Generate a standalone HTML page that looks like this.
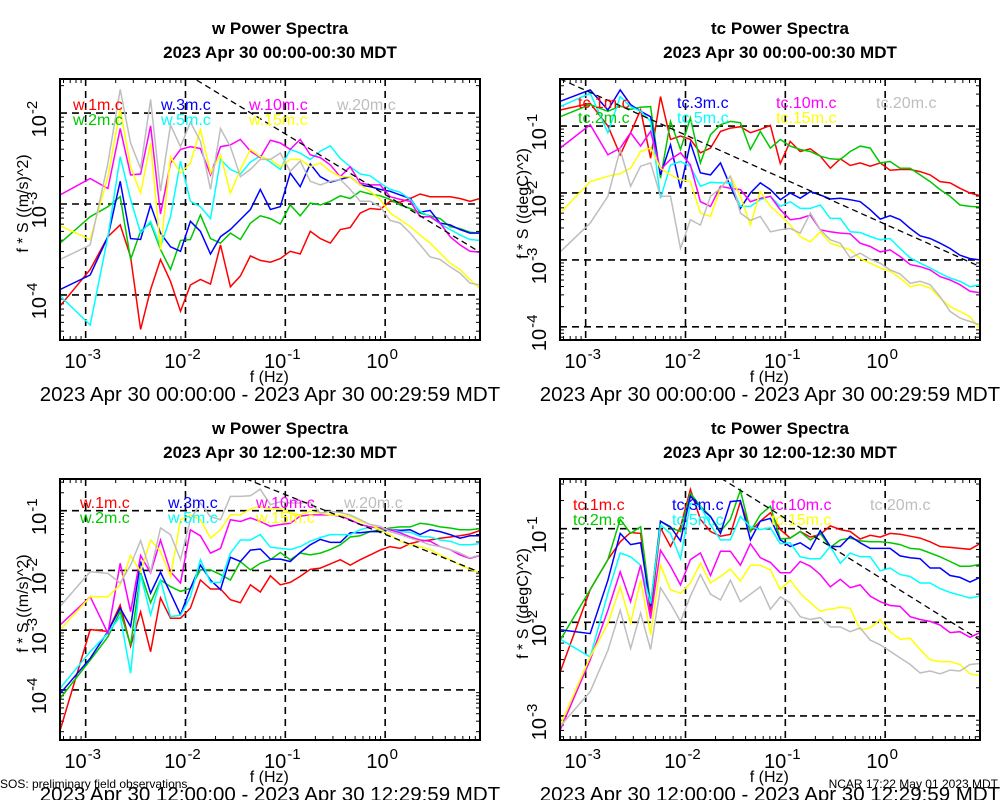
<!DOCTYPE html>
<html><head><meta charset="utf-8"><style>
html,body{margin:0;padding:0;background:#fff;}
svg{display:block;font-family:"Liberation Sans",sans-serif;}
</style></head><body>
<svg id="chart" width="1000" height="800" viewBox="0 0 1000 800" xmlns="http://www.w3.org/2000/svg">
<text x="0" y="788" font-size="12">SOS: preliminary field observations</text>
<text x="998" y="788" font-size="12" text-anchor="end">NCAR 17:22 May 01 2023 MDT</text>
</svg>
<script>
// frequencies in Hz (shared by all panels)
const freqs = [0.000556,0.00111,0.00167,0.00222,0.00282,0.00355,0.00447,0.00562,0.00708,0.00891,0.0112,0.0141,0.0178,0.0224,0.0282,0.0355,0.0447,0.0562,0.0708,0.0891,0.112,0.141,0.178,0.224,0.282,0.355,0.447,0.562,0.708,0.891,1.12,1.41,1.78,2.24,2.82,3.55,4.47,5.62,7.08,8.91];
const seriesColors = ["#ff0000","#00c800","#0000ff","#00ffff","#ff00ff","#ffff00","#bebebe"];
const heights = ["1m","2m","3m","5m","10m","15m","20m"];
const xTickExps = [-3,-2,-1,0];

// Panel 1: w, 00:00 (log10 of f*S)
const w00_1m = [-4.12,-3.72,-3.36,-3.23,-3.58,-4.38,-3.94,-3.61,-3.85,-4.18,-3.89,-3.83,-3.88,-3.45,-3.91,-3.79,-3.57,-3.62,-3.64,-3.60,-3.52,-3.55,-3.30,-3.38,-3.43,-3.28,-3.26,-3.10,-3.05,-3.06,-2.97,-2.98,-2.94,-2.89,-2.92,-2.92,-2.92,-2.94,-2.97,-2.94];
const w00_2m = [-3.43,-3.14,-3.03,-2.92,-3.61,-3.30,-3.21,-3.50,-3.72,-3.40,-3.39,-3.12,-3.38,-3.43,-3.32,-3.39,-3.21,-3.13,-3.16,-3.22,-3.01,-3.13,-2.99,-3.01,-2.97,-2.91,-2.94,-2.86,-2.89,-2.91,-2.95,-3.01,-3.05,-3.10,-3.13,-3.16,-3.25,-3.27,-3.31,-3.32];
const w00_3m = [-3.94,-3.78,-3.36,-2.75,-3.38,-3.39,-3.01,-3.32,-3.47,-3.52,-3.19,-3.30,-3.55,-3.36,-3.28,-3.17,-3.06,-2.84,-3.06,-3.03,-2.66,-2.81,-2.56,-2.70,-2.76,-2.73,-2.70,-2.79,-2.81,-2.84,-2.86,-2.90,-2.94,-3.09,-3.07,-3.21,-3.23,-3.28,-3.32,-3.32];
const w00_5m = [-4.01,-4.33,-3.36,-2.48,-2.95,-3.32,-3.19,-3.47,-3.14,-2.53,-2.97,-3.03,-3.16,-2.51,-2.62,-2.67,-2.54,-2.47,-2.54,-2.62,-2.40,-2.44,-2.51,-2.42,-2.36,-2.50,-2.59,-2.67,-2.69,-2.77,-2.84,-2.87,-2.95,-3.08,-3.14,-3.22,-3.28,-3.34,-3.39,-3.40];
const w00_10m = [-2.90,-2.72,-2.83,-2.17,-2.68,-2.67,-2.14,-3.11,-2.55,-2.40,-2.37,-2.39,-2.68,-2.37,-2.35,-2.29,-2.42,-2.49,-2.30,-2.33,-2.40,-2.29,-2.46,-2.49,-2.57,-2.70,-2.59,-2.77,-2.79,-2.79,-2.92,-2.95,-2.97,-3.14,-3.14,-3.21,-3.36,-3.45,-3.52,-3.53];
const w00_15m = [-3.24,-3.39,-2.70,-1.96,-2.59,-2.88,-2.33,-3.50,-2.48,-2.66,-2.55,-2.18,-2.66,-2.46,-2.88,-2.62,-2.40,-2.48,-2.51,-2.59,-2.51,-2.51,-2.59,-2.55,-2.64,-2.70,-2.70,-2.79,-2.86,-2.95,-3.10,-3.17,-3.25,-3.34,-3.43,-3.54,-3.65,-3.72,-3.83,-3.93];
const w00_20m = [-3.61,-3.45,-2.55,-1.74,-2.33,-2.61,-1.85,-2.86,-2.13,-2.37,-2.10,-2.31,-2.84,-2.17,-2.37,-2.70,-2.62,-2.51,-2.51,-2.44,-2.64,-2.53,-2.75,-2.79,-2.75,-2.73,-2.84,-2.97,-2.97,-3.03,-3.18,-3.21,-3.32,-3.45,-3.58,-3.61,-3.69,-3.76,-3.87,-3.89];

// Panel 2: tc, 00:00
const tc00_1m = [-0.76,-0.66,-1.00,-1.43,-1.10,-0.76,-1.48,-0.56,-1.20,-1.15,-1.20,-1.40,-1.33,-1.08,-1.03,-1.01,-1.10,-1.05,-0.99,-1.56,-1.23,-1.38,-1.34,-1.45,-1.63,-1.49,-1.59,-1.55,-1.60,-1.55,-1.66,-1.65,-1.65,-1.68,-1.73,-1.83,-1.85,-1.93,-2.00,-2.04];
const tc00_2m = [-0.86,-0.68,-0.78,-0.70,-0.75,-0.72,-0.71,-1.78,-0.93,-1.35,-0.88,-1.55,-1.13,-0.98,-0.93,-0.95,-1.35,-1.08,-1.33,-1.20,-1.30,-1.35,-1.38,-1.45,-1.49,-1.50,-1.38,-1.30,-1.33,-1.55,-1.53,-1.63,-1.63,-1.73,-1.83,-1.95,-2.05,-2.18,-2.20,-2.21];
const tc00_3m = [-0.63,-0.46,-0.76,-0.46,-0.68,-0.78,-0.86,-1.73,-1.28,-1.93,-1.25,-1.70,-1.73,-1.55,-1.90,-2.23,-2.00,-1.85,-1.95,-2.10,-2.00,-2.08,-1.98,-2.03,-2.09,-2.08,-2.10,-2.13,-2.25,-2.39,-2.34,-2.40,-2.53,-2.64,-2.68,-2.75,-2.83,-2.93,-2.98,-3.00];
const tc00_5m = [-0.71,-0.51,-1.10,-0.56,-0.71,-0.78,-0.93,-2.08,-1.58,-1.53,-1.60,-1.90,-1.84,-1.85,-1.85,-2.20,-2.20,-2.10,-2.05,-2.20,-2.13,-2.23,-2.23,-2.18,-2.38,-2.38,-2.58,-2.59,-2.65,-2.70,-2.68,-2.83,-2.97,-3.05,-3.12,-3.20,-3.27,-3.32,-3.40,-3.37];
const tc00_10m = [-1.33,-0.98,-1.43,-1.33,-1.10,-1.30,-1.08,-1.65,-1.50,-1.40,-1.58,-2.13,-2.20,-1.90,-1.93,-1.95,-2.13,-2.08,-2.05,-2.25,-2.40,-2.38,-2.33,-2.55,-2.58,-2.60,-2.61,-2.75,-2.80,-2.88,-2.85,-2.95,-3.07,-3.10,-3.15,-3.25,-3.30,-3.37,-3.47,-3.49];
const tc00_15m = [-2.30,-1.83,-1.75,-1.71,-1.63,-1.38,-1.33,-1.63,-1.73,-1.80,-1.83,-2.30,-2.35,-1.93,-1.75,-2.05,-2.48,-1.98,-2.20,-2.33,-2.48,-2.65,-2.73,-2.58,-2.75,-2.80,-2.85,-2.98,-3.05,-3.12,-3.17,-3.27,-3.40,-3.37,-3.42,-3.57,-3.70,-3.77,-3.85,-4.04];
const tc00_20m = [-2.88,-2.45,-2.05,-1.35,-1.90,-1.60,-1.55,-2.05,-2.05,-2.83,-2.40,-2.48,-2.05,-1.93,-1.75,-2.30,-2.41,-2.35,-2.58,-2.55,-2.53,-2.60,-2.30,-2.55,-2.70,-2.75,-2.97,-2.90,-2.99,-3.05,-3.15,-3.21,-3.35,-3.32,-3.37,-3.55,-3.77,-3.87,-3.92,-3.97];

// Panel 3: w, 12:00
const w12_1m = [-4.67,-2.99,-3.02,-2.58,-3.27,-2.69,-3.36,-2.46,-2.80,-2.80,-2.63,-2.16,-2.31,-2.31,-2.49,-2.54,-2.24,-2.36,-2.09,-2.24,-2.20,-2.10,-1.98,-1.96,-1.89,-1.82,-1.91,-1.82,-1.74,-1.66,-1.60,-1.63,-1.55,-1.51,-1.49,-1.46,-1.44,-1.42,-1.39,-1.33];
const w12_2m = [-4.14,-3.50,-3.11,-2.69,-3.25,-2.04,-2.54,-2.16,-2.27,-2.35,-2.30,-1.99,-1.99,-2.07,-2.16,-1.85,-1.99,-1.88,-1.82,-1.70,-1.82,-1.71,-1.74,-1.71,-1.65,-1.57,-1.44,-1.42,-1.35,-1.32,-1.29,-1.27,-1.27,-1.21,-1.23,-1.27,-1.29,-1.32,-1.32,-1.30];
const w12_3m = [-4.06,-3.47,-3.02,-2.63,-2.94,-1.85,-2.38,-2.03,-2.38,-2.74,-2.30,-1.91,-2.16,-2.32,-1.78,-1.85,-1.66,-1.64,-1.81,-1.81,-1.85,-1.70,-1.57,-1.48,-1.53,-1.53,-1.37,-1.37,-1.35,-1.35,-1.32,-1.33,-1.32,-1.40,-1.32,-1.35,-1.40,-1.46,-1.42,-1.42];
const w12_5m = [-3.97,-3.36,-3.05,-2.77,-3.72,-2.07,-2.74,-2.16,-2.77,-2.75,-2.44,-1.82,-2.20,-2.20,-1.71,-1.49,-1.49,-1.40,-1.61,-1.63,-1.65,-1.60,-1.51,-1.45,-1.40,-1.40,-1.40,-1.32,-1.27,-1.29,-1.32,-1.35,-1.36,-1.43,-1.44,-1.49,-1.51,-1.57,-1.57,-1.55];
const w12_10m = [-2.91,-2.44,-3.05,-1.88,-2.69,-1.75,-2.04,-1.49,-2.02,-2.21,-1.32,-1.42,-1.71,-1.63,-1.15,-1.18,-1.12,-1.18,-1.26,-1.23,-1.21,-1.09,-1.07,-1.07,-1.07,-1.09,-1.15,-1.23,-1.27,-1.29,-1.32,-1.37,-1.44,-1.49,-1.51,-1.60,-1.65,-1.74,-1.80,-1.75];
const w12_15m = [-2.99,-2.44,-2.44,-2.24,-1.75,-2.02,-1.49,-1.68,-2.10,-1.15,-1.07,-1.15,-1.46,-1.32,-1.07,-1.07,-0.97,-0.93,-0.97,-0.96,-1.04,-1.07,-1.01,-1.04,-1.07,-1.08,-1.09,-1.18,-1.23,-1.32,-1.40,-1.51,-1.57,-1.60,-1.65,-1.74,-1.82,-1.91,-1.98,-2.03];
const w12_20m = [-2.60,-2.02,-2.05,-2.21,-1.91,-1.50,-2.02,-1.29,-1.40,-1.82,-1.15,-0.87,-1.10,-1.15,-0.76,-0.76,-0.75,-0.64,-0.90,-0.85,-0.87,-0.87,-0.86,-1.04,-1.01,-1.03,-1.07,-1.15,-1.23,-1.26,-1.35,-1.40,-1.46,-1.51,-1.57,-1.60,-1.65,-1.71,-1.79,-1.74];

// Panel 4: tc, 12:00
const tc12_1m = [-2.53,-1.65,-1.33,-1.14,-1.04,-1.05,-1.90,-0.99,-1.19,-0.98,-0.58,-0.90,-1.03,-1.08,-1.06,-0.71,-1.03,-0.92,-0.83,-1.01,-1.10,-1.03,-1.09,-1.06,-0.97,-1.01,-1.03,-1.11,-1.07,-1.09,-1.05,-1.06,-1.08,-1.10,-1.14,-1.19,-1.20,-1.21,-1.22,-1.16];
const tc12_2m = [-2.19,-1.65,-1.33,-0.90,-1.05,-0.98,-1.81,-0.92,-0.99,-1.03,-0.62,-0.76,-0.87,-1.03,-0.90,-0.59,-1.03,-0.85,-0.76,-1.11,-1.10,-1.03,-1.12,-1.05,-1.20,-1.12,-1.10,-1.13,-1.14,-1.14,-1.15,-1.17,-1.21,-1.22,-1.26,-1.30,-1.35,-1.40,-1.40,-1.38];
const tc12_3m = [-2.08,-2.12,-1.55,-1.05,-1.17,-1.15,-1.83,-0.92,-0.98,-1.13,-0.65,-0.78,-0.87,-1.05,-0.71,-0.70,-1.12,-0.92,-0.89,-1.12,-1.19,-1.15,-1.22,-1.02,-1.19,-1.19,-1.08,-1.15,-1.21,-1.21,-1.21,-1.29,-1.31,-1.32,-1.42,-1.42,-1.50,-1.52,-1.57,-1.52];
const tc12_5m = [-2.18,-2.37,-1.69,-1.26,-1.30,-1.39,-1.80,-0.96,-1.05,-1.32,-0.73,-0.76,-0.96,-1.12,-1.12,-0.87,-0.98,-1.01,-0.99,-1.16,-1.15,-1.30,-1.32,-1.32,-1.19,-1.37,-1.26,-1.30,-1.30,-1.45,-1.42,-1.49,-1.51,-1.58,-1.58,-1.64,-1.68,-1.71,-1.74,-1.72];
const tc12_10m = [-3.15,-2.40,-1.87,-1.46,-1.78,-1.39,-1.96,-1.23,-1.40,-1.60,-1.33,-1.26,-1.50,-1.24,-1.24,-1.39,-1.16,-1.31,-1.36,-1.47,-1.47,-1.35,-1.40,-1.49,-1.62,-1.54,-1.63,-1.60,-1.72,-1.78,-1.82,-1.83,-1.94,-1.97,-1.99,-2.03,-2.11,-2.10,-2.16,-2.11];
const tc12_15m = [-3.10,-2.37,-2.01,-1.62,-2.01,-1.55,-2.13,-1.39,-1.65,-1.69,-1.58,-1.37,-1.58,-1.51,-1.43,-1.56,-1.39,-1.39,-1.44,-1.65,-1.55,-1.69,-1.79,-1.88,-1.86,-1.84,-1.85,-2.08,-2.06,-1.97,-2.10,-2.18,-2.17,-2.29,-2.40,-2.42,-2.42,-2.45,-2.55,-2.57];
const tc12_20m = [-3.11,-2.74,-2.30,-1.87,-2.28,-1.90,-2.29,-1.63,-1.80,-1.99,-1.72,-1.49,-1.70,-1.76,-1.55,-1.78,-1.70,-1.62,-1.86,-1.73,-1.79,-1.94,-1.97,-1.95,-2.05,-2.05,-2.10,-2.06,-2.19,-2.24,-2.31,-2.38,-2.45,-2.54,-2.52,-2.55,-2.51,-2.52,-2.45,-2.44];

// -2/3 reference line anchor values (log10 at f = 8.91 Hz)
const refAnchors = [-3.53,-3.10,-2.03,-2.19];

const NS = "http://www.w3.org/2000/svg";
const svg = document.getElementById("chart");
function mk(tag, attrs, parent){ const e=document.createElementNS(NS,tag); for(const k in attrs) e.setAttribute(k,attrs[k]); (parent||svg).appendChild(e); return e; }

const panels = [
 {id:"w-00", left:60, top:79, var:"w", title:"w Power Spectra", sub:"2023 Apr 30 00:00-00:30 MDT", range:"2023 Apr 30 00:00:00 - 2023 Apr 30 00:29:59 MDT", ymin:-4.495, ymax:-1.626, yt:[-4,-3,-2], ylab:"f * S ((m/s)^2)", data:[w00_1m,w00_2m,w00_3m,w00_5m,w00_10m,w00_15m,w00_20m], legx:[73,161,249,337], legy:104, ref:refAnchors[0]},
 {id:"tc-00", left:560, top:79, var:"tc", title:"tc Power Spectra", sub:"2023 Apr 30 00:00-00:30 MDT", range:"2023 Apr 30 00:00:00 - 2023 Apr 30 00:29:59 MDT", ymin:-4.197, ymax:-0.297, yt:[-4,-3,-2,-1], ylab:"f * S ((degC)^2)", data:[tc00_1m,tc00_2m,tc00_3m,tc00_5m,tc00_10m,tc00_15m,tc00_20m], legx:[578,677,776,876], legy:102, ref:refAnchors[1]},
 {id:"w-12", left:60, top:479, var:"w", title:"w Power Spectra", sub:"2023 Apr 30 12:00-12:30 MDT", range:"2023 Apr 30 12:00:00 - 2023 Apr 30 12:29:59 MDT", ymin:-4.838, ymax:-0.469, yt:[-4,-3,-2,-1], ylab:"f * S ((m/s)^2)", data:[w12_1m,w12_2m,w12_3m,w12_5m,w12_10m,w12_15m,w12_20m], legx:[80,168,256,344], legy:502, ref:refAnchors[2]},
 {id:"tc-12", left:560, top:479, var:"tc", title:"tc Power Spectra", sub:"2023 Apr 30 12:00-12:30 MDT", range:"2023 Apr 30 12:00:00 - 2023 Apr 30 12:29:59 MDT", ymin:-3.257, ymax:-0.469, yt:[-3,-2,-1], ylab:"f * S ((degC)^2)", data:[tc12_1m,tc12_2m,tc12_3m,tc12_5m,tc12_10m,tc12_15m,tc12_20m], legx:[573,672,771,870], legy:504, ref:refAnchors[3]}
];
const W=420, H=261, XMIN=-3.257, XMAX=0.95;

panels.forEach((p,pi)=>{
  const g = mk("g",{});
  
  
  const X = lf => p.left + (lf-XMIN)/(XMAX-XMIN)*W;
  const Y = lv => p.top + (p.ymax-lv)/(p.ymax-p.ymin)*H;
  const cx = p.left + W/2;
  const clipId = "clip"+pi;
  const cp = mk("clipPath",{id:clipId},g); mk("rect",{x:p.left,y:p.top,width:W,height:H},cp);

  let t = mk("text",{x:cx+10,y:p.top-45,"font-size":17,"font-weight":"bold","text-anchor":"middle"},g); t.textContent=p.title;
  
  
  t = mk("text",{x:cx+10,y:p.top-21,"font-size":17,"font-weight":"bold","text-anchor":"middle"},g); t.textContent=p.sub;
  
  

  // grid
  xTickExps.forEach(e=>{ const l=mk("line",{x1:X(e),x2:X(e),y1:p.top,y2:p.top+H,stroke:"#000","stroke-width":1.6,"stroke-dasharray":"7,5"},g);
    
     });
  p.yt.forEach(e=>{ const l=mk("line",{x1:p.left,x2:p.left+W,y1:Y(e),y2:Y(e),stroke:"#000","stroke-width":1.6,"stroke-dasharray":"7,5"},g);
    
     });
  // minor ticks
  for(let d=-4; d<=0; d++) for(let m=2;m<=9;m++){ const lf=d+Math.log10(m); if(lf<XMIN||lf>XMAX) continue;
    mk("line",{x1:X(lf),x2:X(lf),y1:p.top+H,y2:p.top+H-4,stroke:"#000","stroke-width":1},g);
    mk("line",{x1:X(lf),x2:X(lf),y1:p.top,y2:p.top+4,stroke:"#000","stroke-width":1},g); }
  for(let d=-6; d<=0; d++) for(let m=2;m<=9;m++){ const lv=d+Math.log10(m); if(lv<p.ymin||lv>p.ymax) continue;
    mk("line",{x1:p.left,x2:p.left+4,y1:Y(lv),y2:Y(lv),stroke:"#000","stroke-width":1},g);
    mk("line",{x1:p.left+W,x2:p.left+W-4,y1:Y(lv),y2:Y(lv),stroke:"#000","stroke-width":1},g); }

  // series
  p.data.forEach((arr,si)=>{
    const pts = arr.map((v,i)=>X(Math.log10(freqs[i])).toFixed(1)+","+Y(v).toFixed(1)).join(" ");
    const pl = mk("polyline",{points:pts,fill:"none",stroke:seriesColors[si],"stroke-width":1.5,"clip-path":"url(#"+clipId+")"},g);
    
    
  });
  // reference -2/3 line
  const lf1=XMAX, lv1=p.ref, lf0=XMIN, lv0=p.ref+(2/3)*(XMAX-XMIN);
  const rl = mk("line",{x1:X(lf0),y1:Y(lv0),x2:X(lf1),y2:Y(lv1),stroke:"#000","stroke-width":1.3,"stroke-dasharray":"6,4","clip-path":"url(#"+clipId+")"},g);
  
  

  // legend
  p.data.forEach((arr,si)=>{
    const col = si<2?0:si<4?1:si<6?2:3; const row = (si===0||si===2||si===4||si===6)?0:1;
    const lt = mk("text",{x:p.legx[col],y:p.legy+row*15+6,"font-size":16,fill:seriesColors[si]},g);
    lt.textContent = p.var+"."+heights[si]+".c";
    
    
  });

  // frame
  const fr = mk("rect",{x:p.left,y:p.top,width:W,height:H,fill:"none",stroke:"#000","stroke-width":2},g);
  
  

  // x tick labels
  xTickExps.forEach(e=>{
    const tt = mk("text",{x:X(e)-3,y:p.top+H+28,"font-size":20,"text-anchor":"middle"},g);
    tt.textContent="10";
    const sp = mk("tspan",{dx:"1",dy:"-9","font-size":15},tt); sp.textContent=String(e);
    
    
  });
  t = mk("text",{x:X(-1)-16,y:p.top+H+42,"font-size":16,"text-anchor":"middle"},g); t.textContent="f (Hz)";
  
  
  t = mk("text",{x:cx,y:p.top+H+61,"font-size":20.5,"text-anchor":"middle"},g); t.textContent=p.range;
  
  

  // y tick labels (rotated)
  p.yt.forEach(e=>{
    const y=Y(e)+6, x=p.left-14;
    const tt = mk("text",{x:x,y:y,"font-size":20,"text-anchor":"middle",transform:"rotate(-90 "+x+" "+y+")"},g);
    tt.textContent="10";
    const sp = mk("tspan",{dx:"1",dy:"-9","font-size":15},tt); sp.textContent=String(e);
    
    
  });
  const yx=p.left-32, yy=p.top+H/2-6;
  t = mk("text",{x:yx,y:yy,"font-size":16,"text-anchor":"middle",transform:"rotate(-90 "+yx+" "+yy+")"},g); t.textContent=p.ylab;
  
  
});
</script>
</body></html>
